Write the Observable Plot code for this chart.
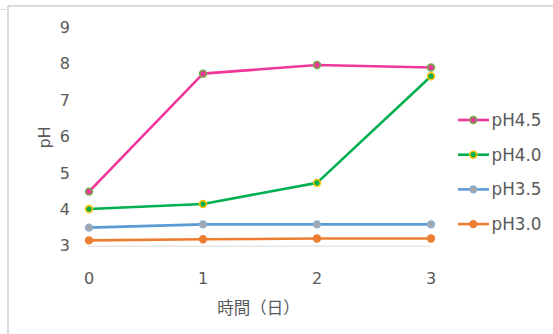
<!DOCTYPE html>
<html>
<head>
<meta charset="utf-8">
<script src="https://cdn.jsdelivr.net/npm/d3@7"></script>
<script src="https://cdn.jsdelivr.net/npm/@observablehq/plot@0.6"></script>
<style>
  html, body { margin: 0; padding: 0; background: #fff; }
  #wrap { position: relative; width: 553px; height: 334px; overflow: hidden; }
  #wrap svg { position: absolute; left: 0; top: 0; }
  #wrap g[aria-label="x-axis tick label"],
  #wrap g[aria-label="y-axis tick label"] { font-size: 16px; }
  .edge { position: absolute; background: #d9d9d9; }
</style>
</head>
<body>
<div id="wrap">
  <div class="edge" style="left:0;top:9px;width:6px;height:1px"></div>
  <div class="edge" style="left:7px;top:6px;width:2px;height:328px"></div>
  <div class="edge" style="left:8px;top:5px;width:545px;height:2px"></div>
</div>
<script>
// Days since start
const days = [0, 1, 2, 3];
// Measured pH of each starting-pH treatment
const pH45 = [4.50, 7.74, 7.98, 7.91];
const pH40 = [4.02, 4.16, 4.74, 7.67];
const pH35 = [3.51, 3.60, 3.60, 3.60];
const pH30 = [3.16, 3.19, 3.21, 3.21];
const yTicks = [3, 4, 5, 6, 7, 8, 9];

const seriesNames = ["pH4.5", "pH4.0", "pH3.5", "pH3.0"];
const seriesValues = [pH45, pH40, pH35, pH30];
const lineColors = ["#f0359b", "#00b050", "#5b9bd5", "#ed7d31"];
const dotFills = ["#f0359b", "#00b050", "#a5a5a5", "#ed7d31"];
const dotStrokes = ["#70ad47", "#ffc000", "#8fb0d0", "#ed7d31"];

const rows = seriesNames.flatMap((name, i) =>
  days.map((d, j) => ({series: name, day: d, ph: seriesValues[i][j], k: i}))
);

const W = 553, H = 334;
const textColor = "#595959";
const font = "'DejaVu Sans', sans-serif";

const chart = Plot.plot({
  width: W,
  height: H,
  marginLeft: 88.5,
  marginRight: 122.5,
  marginTop: 27.3,
  marginBottom: 88.3,
  style: {fontFamily: font, color: textColor, background: "transparent"},
  x: {domain: [0, 3]},
  y: {domain: [3, 9]},
  marks: [
    Plot.axisX({ticks: days, tickFormat: d3.format("d"), label: null, tickSize: 0, tickPadding: 26, fontSize: 16, fill: textColor}),
    Plot.axisY({ticks: yTicks, tickFormat: d3.format("d"), label: null, tickSize: 0, tickPadding: 19, fontSize: 16, fill: textColor}),
    Plot.ruleY([3], {stroke: "#d9d9d9", strokeWidth: 1}),
    // Draw the lower series first so the pH4.5 line sits on top
    ...[3, 2, 1, 0].map(i =>
      Plot.line(rows.filter(r => r.k === i), {
        x: "day", y: "ph", stroke: lineColors[i], strokeWidth: 2.6, curve: "linear"
      })
    ),
    ...[3, 2, 1, 0].map(i =>
      Plot.dot(rows.filter(r => r.k === i), {
        x: "day", y: "ph", r: 3.4, fill: dotFills[i], stroke: dotStrokes[i], strokeWidth: 1.6
      })
    )
  ]
});

document.getElementById("wrap").appendChild(chart);

const svg = d3.select(chart);

// Axis titles
svg.append("text")
  .attr("x", 258.5).attr("y", 307)
  .attr("text-anchor", "middle").attr("dominant-baseline", "central")
  .attr("font-family", "'Noto Sans CJK JP', sans-serif")
  .attr("font-size", 16.5).attr("fill", textColor)
  .text("時間（日）");

svg.append("text")
  .attr("transform", "translate(44,137.5) rotate(-90)")
  .attr("text-anchor", "middle").attr("dominant-baseline", "central")
  .attr("font-family", font)
  .attr("font-size", 16).attr("fill", textColor)
  .text("pH");

// Legend on the right
const legend = svg.append("g").attr("transform", "translate(458,120)");
seriesNames.forEach((name, i) => {
  const g = legend.append("g").attr("transform", `translate(0,${i * 34.7})`);
  g.append("line").attr("x1", 0).attr("x2", 31).attr("y1", 0).attr("y2", 0)
    .attr("stroke", lineColors[i]).attr("stroke-width", 2.6);
  g.append("circle").attr("cx", 15.3).attr("cy", 0).attr("r", 3.4)
    .attr("fill", dotFills[i]).attr("stroke", dotStrokes[i]).attr("stroke-width", 1.6);
  g.append("text").attr("x", 33.5).attr("y", 0)
    .attr("text-anchor", "start").attr("dominant-baseline", "central")
    .attr("font-family", font)
    .attr("font-size", 16.8).attr("fill", textColor)
    .text(name);
});
</script>
</body>
</html>
